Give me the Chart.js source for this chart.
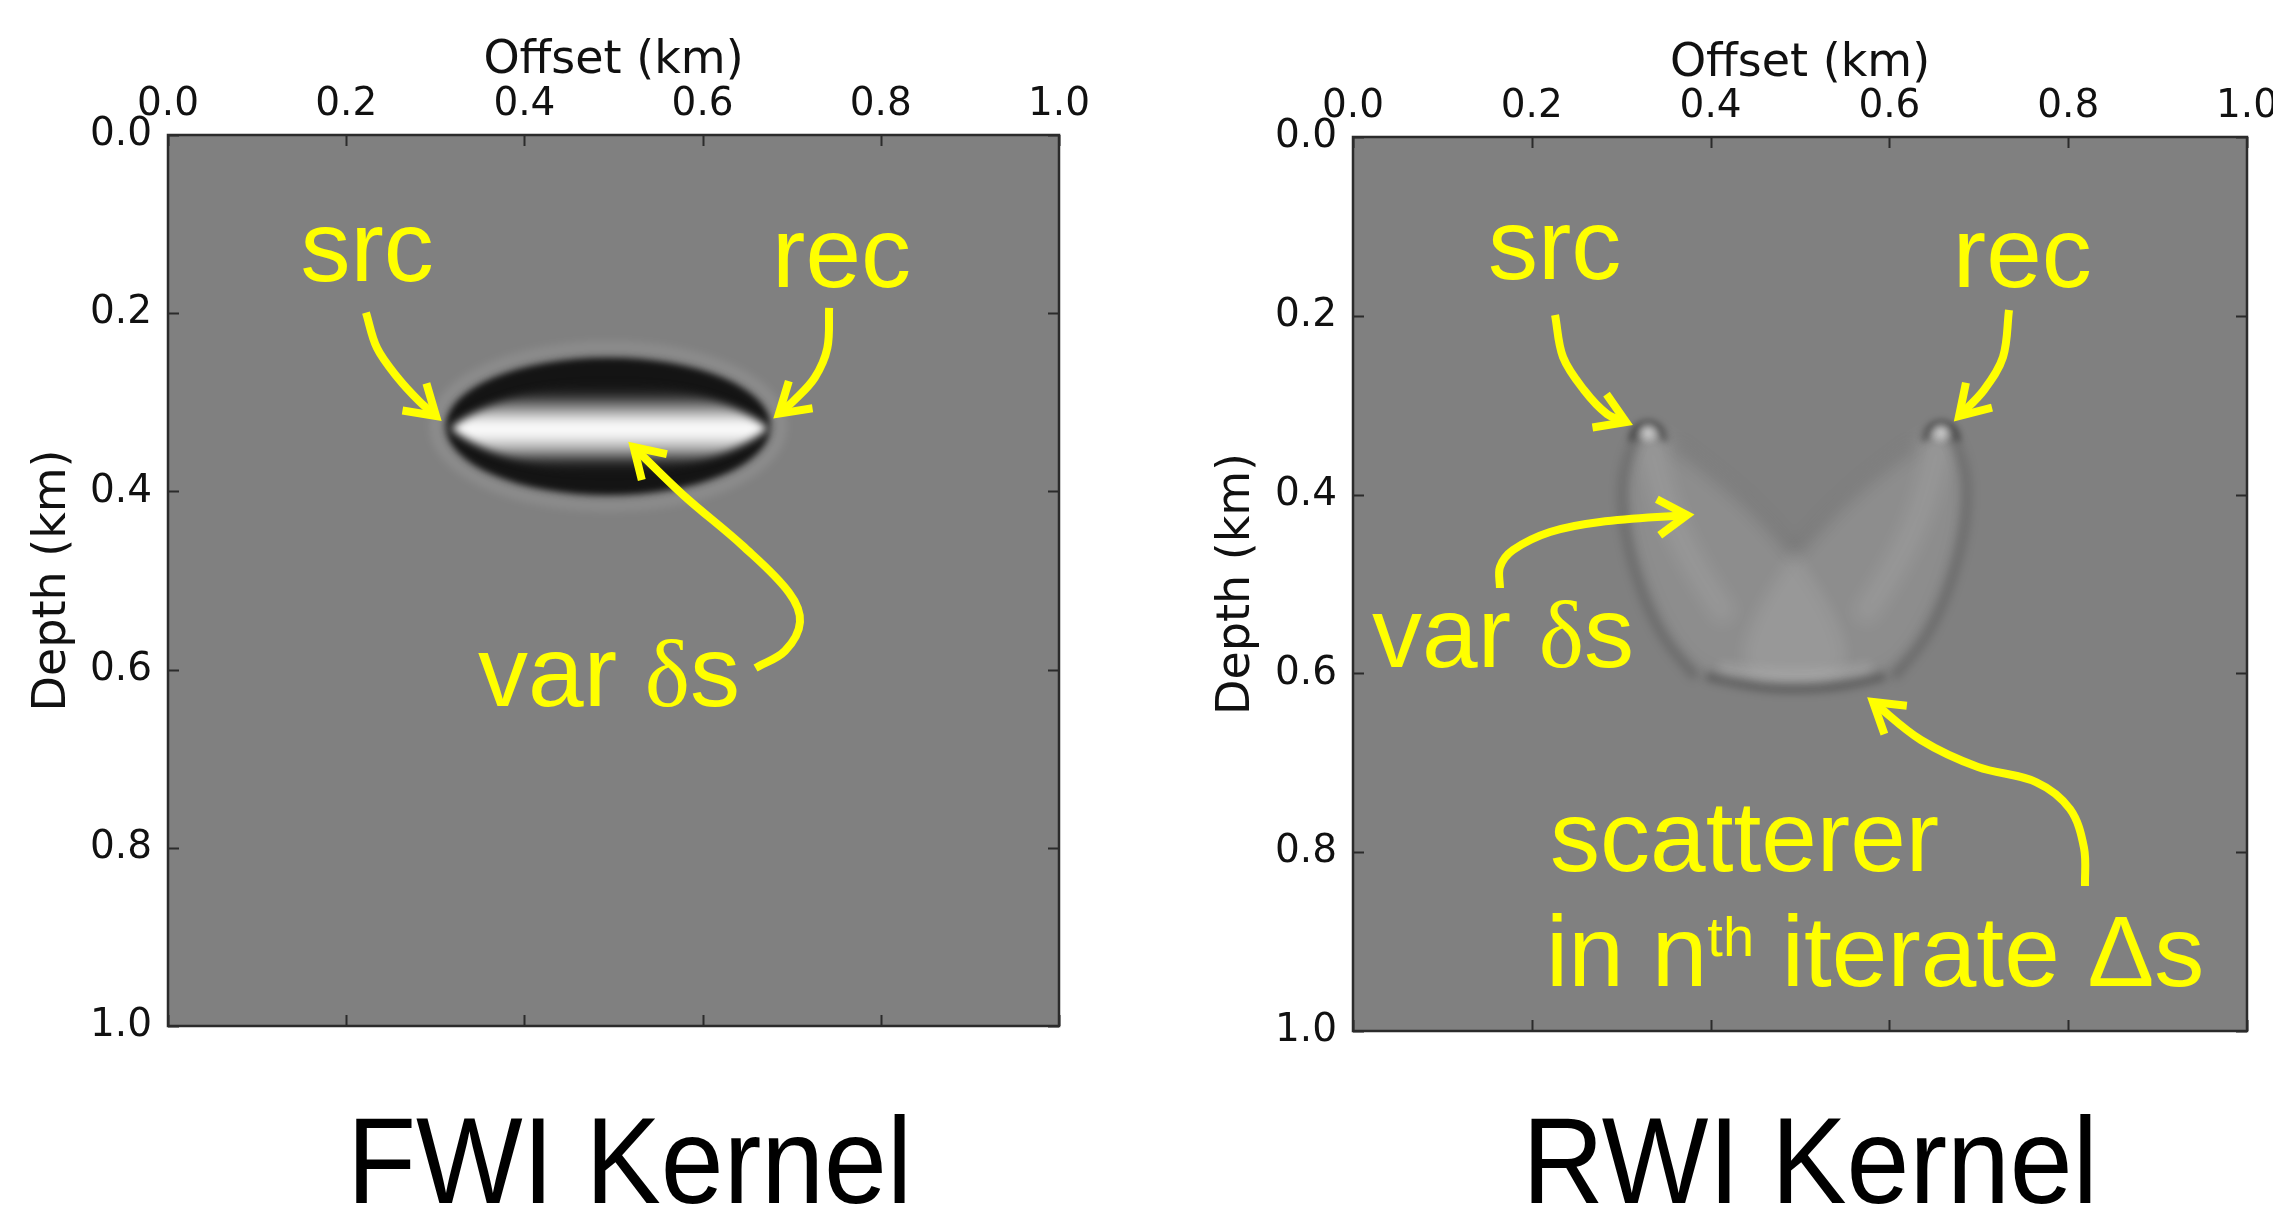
<!DOCTYPE html>
<html>
<head>
<meta charset="utf-8">
<script src="https://cdn.jsdelivr.net/npm/chart.js@4.4.0/dist/chart.umd.min.js"></script>
<style>
    html, body { margin: 0; padding: 0; background: #ffffff; }
    #wrap { position: relative; width: 2273px; height: 1205px; overflow: hidden; }
    canvas { position: absolute; top: 0; }
    #fwiChart { left: 0; }
    #rwiChart { left: 1136px; }
</style>
</head>
<body>
<div id="wrap">
    <canvas id="fwiChart" width="1136" height="1205"></canvas>
    <canvas id="rwiChart" width="1137" height="1205"></canvas>
</div>
<script>
// ---- tick values (km) ----
const offsetTicks = [0.0, 0.2, 0.4, 0.6, 0.8, 1.0];
const depthTicks = [0.0, 0.2, 0.4, 0.6, 0.8, 1.0];

// ---- FWI kernel: [offset, depth, half width, half height] in km ----
const fwiRim = [0.494, 0.327, 0.182, 0.077];
const fwiCore = [0.4955, 0.329, 0.178, 0.05];

// ---- RWI kernel outlines, [offset, depth] in km ----
const rwiLeftLobe = [[0.329, 0.321], [0.305, 0.355], [0.305, 0.425], [0.324, 0.495], [0.352, 0.557],
    [0.386, 0.598], [0.45, 0.612], [0.56, 0.608], [0.54, 0.53], [0.471, 0.434], [0.423, 0.387], [0.362, 0.340]];
const rwiRightLobe = [[0.659, 0.321], [0.683, 0.355], [0.683, 0.425], [0.664, 0.495], [0.636, 0.557],
    [0.602, 0.598], [0.538, 0.612], [0.428, 0.608], [0.448, 0.53], [0.517, 0.434], [0.565, 0.387], [0.626, 0.340]];
const rwiLeftStreak = [[0.331, 0.335], [0.345, 0.40], [0.375, 0.47], [0.42, 0.54]];
const rwiRightStreak = [[0.657, 0.335], [0.643, 0.40], [0.613, 0.47], [0.568, 0.54]];
const rwiLeftFlank = [[0.322, 0.328], [0.303, 0.36], [0.301, 0.425], [0.318, 0.497], [0.346, 0.56], [0.384, 0.604]];
const rwiRightFlank = [[0.666, 0.328], [0.685, 0.36], [0.687, 0.425], [0.670, 0.497], [0.642, 0.56], [0.604, 0.604]];
const rwiInnerEdge = [[0.36, 0.345], [0.423, 0.392], [0.471, 0.44], [0.494, 0.468], [0.517, 0.44], [0.565, 0.392], [0.628, 0.345]];
const rwiBottomGlow = [[0.41, 0.595], [0.45, 0.602], [0.494, 0.604], [0.54, 0.602], [0.58, 0.595]];
const rwiBottomArc = [[0.395, 0.603], [0.44, 0.614], [0.494, 0.618], [0.55, 0.614], [0.595, 0.603]];
const rwiTips = [[0.330, 0.331], [0.658, 0.331]];

// ---- yellow arrows, [offset, depth] in km, drawn towards the last point ----
const fwiSrcArrow = [[0.2222, 0.1993], [0.2346, 0.2391], [0.2581, 0.2727], [0.2817, 0.2985], [0.3008, 0.3154]];
const fwiRecArrow = [[0.742, 0.194], [0.740, 0.239], [0.7256, 0.2727], [0.702, 0.2985], [0.6857, 0.3127]];
const fwiVarArrow = [[0.6594, 0.5982], [0.6925, 0.579], [0.7093, 0.5466], [0.697, 0.5135], [0.6453, 0.4613],
    [0.5791, 0.4048], [0.5226, 0.3502]];
const rwiSrcArrow = [[0.2260, 0.1991], [0.2349, 0.2461], [0.2584, 0.2830], [0.2841, 0.3098], [0.3054, 0.3188]];
const rwiRecArrow = [[0.7338, 0.1935], [0.7271, 0.2461], [0.7058, 0.2830], [0.6779, 0.3121]];
const rwiVarArrow = [[0.1644, 0.5045], [0.1644, 0.4810], [0.1790, 0.4620], [0.2204, 0.4418], [0.2763, 0.4306], [0.3736, 0.4228]];
const rwiScatArrow = [[0.8188, 0.8378], [0.8177, 0.7953], [0.8020, 0.7517], [0.7640, 0.7215], [0.6991, 0.7047],
    [0.6353, 0.6745], [0.5817, 0.6320]];

// ---- annotation labels: anchor [offset, depth] at text baseline ----
const fwiNotes = [
    { at: [0.1487, 0.1639], runs: [['src', 'sans']] },
    { at: [0.678, 0.1706], runs: [['rec', 'sans']] },
    { at: [0.348, 0.641], runs: [['var ', 'sans'], ['δ', 'serif'], ['s', 'sans']] }
];
const rwiNotes = [
    { at: [0.151, 0.1588], runs: [['src', 'sans']] },
    { at: [0.671, 0.1678], runs: [['rec', 'sans']] },
    { at: [0.0213, 0.5928], runs: [['var ', 'sans'], ['δ', 'serif'], ['s', 'sans']] },
    { at: [0.2204, 0.821], runs: [['scatterer', 'sans']] },
    { at: [0.216, 0.950], runs: [['in n', 'sans'], ['th', 'sup'], [' iterate Δs', 'sans']] }
];

const YELLOW = '#ffff00';
const noteFonts = {
    sans: '100px "Liberation Sans", Arial, sans-serif',
    serif: '96px "Liberation Serif", "Times New Roman", serif',
    sup: '56px "Liberation Sans", Arial, sans-serif'
};

function toPx(chart, p) {
    return [chart.scales.x.getPixelForValue(p[0]), chart.scales.y.getPixelForValue(p[1])];
}

function smoothPath(ctx, pts, closed) {
    ctx.beginPath();
    if (closed) {
        const n = pts.length;
        const mid = (a, b) => [(a[0] + b[0]) / 2, (a[1] + b[1]) / 2];
        let m = mid(pts[0], pts[1]);
        ctx.moveTo(m[0], m[1]);
        for (let i = 1; i <= n; i++) {
            const p = pts[i % n];
            m = mid(p, pts[(i + 1) % n]);
            ctx.quadraticCurveTo(p[0], p[1], m[0], m[1]);
        }
        ctx.closePath();
    } else {
        ctx.moveTo(pts[0][0], pts[0][1]);
        for (let i = 1; i < pts.length - 1; i++) {
            const mx = (pts[i][0] + pts[i + 1][0]) / 2;
            const my = (pts[i][1] + pts[i + 1][1]) / 2;
            ctx.quadraticCurveTo(pts[i][0], pts[i][1], mx, my);
        }
        const last = pts[pts.length - 1];
        ctx.lineTo(last[0], last[1]);
    }
}

function ellipsePx(chart, e) {
    const [cx, cy] = toPx(chart, [e[0], e[1]]);
    const rx = Math.abs(chart.scales.x.getPixelForValue(e[0] + e[2]) - cx);
    const ry = Math.abs(chart.scales.y.getPixelForValue(e[1] + e[3]) - cy);
    return [cx, cy, rx, ry];
}

/**
 * FWI kernel: dark elliptical rim with a bright lens-shaped core
 */
function drawFwiKernel(chart) {
    const ctx = chart.ctx;
    const [cx, cy, rx, ry] = ellipsePx(chart, fwiRim);

    // faint light halo around the rim
    ctx.filter = 'blur(5px)';
    ctx.strokeStyle = 'rgba(255,255,255,0.12)';
    ctx.lineWidth = 9;
    ctx.beginPath();
    ctx.ellipse(cx, cy, rx + 11, ry + 11, 0, 0, Math.PI * 2);
    ctx.stroke();

    // dark rim
    ctx.filter = 'blur(3px)';
    ctx.fillStyle = '#141414';
    ctx.beginPath();
    ctx.ellipse(cx, cy, rx, ry, 0, 0, Math.PI * 2);
    ctx.fill();

    // bright core
    const [lx, ly, lrx, lry] = ellipsePx(chart, fwiCore);
    const g = ctx.createLinearGradient(0, ly - lry, 0, ly + lry);
    g.addColorStop(0, 'rgba(20,20,20,0)');
    g.addColorStop(0.14, '#333333');
    g.addColorStop(0.3, '#a0a0a0');
    g.addColorStop(0.42, '#ececec');
    g.addColorStop(0.5, '#ffffff');
    g.addColorStop(0.6, '#eeeeee');
    g.addColorStop(0.74, '#a8a8a8');
    g.addColorStop(0.88, '#333333');
    g.addColorStop(1, 'rgba(20,20,20,0)');
    ctx.filter = 'blur(4px)';
    ctx.fillStyle = g;
    ctx.beginPath();
    ctx.moveTo(lx - lrx, ly);
    ctx.bezierCurveTo(lx - lrx * 0.55, ly - lry * 1.3, lx + lrx * 0.55, ly - lry * 1.3, lx + lrx, ly);
    ctx.bezierCurveTo(lx + lrx * 0.55, ly + lry * 1.3, lx - lrx * 0.55, ly + lry * 1.3, lx - lrx, ly);
    ctx.fill();
    ctx.filter = 'none';
}

/**
 * RWI kernel: two soft lobes from src / rec joined by the scatterer arc
 */
function drawRwiKernel(chart) {
    const ctx = chart.ctx;
    const px = pts => pts.map(p => toPx(chart, p));

    ctx.filter = 'blur(8px)';
    ctx.fillStyle = 'rgba(255,255,255,0.1)';
    [rwiLeftLobe, rwiRightLobe].forEach(lobe => {
        smoothPath(ctx, px(lobe), true);
        ctx.fill();
    });

    // lighter streak down each lobe
    ctx.filter = 'blur(9px)';
    ctx.strokeStyle = 'rgba(255,255,255,0.1)';
    ctx.lineWidth = 22;
    [rwiLeftStreak, rwiRightStreak].forEach(s => {
        smoothPath(ctx, px(s), false);
        ctx.stroke();
    });

    ctx.filter = 'blur(5px)';
    ctx.strokeStyle = 'rgba(0,0,0,0.17)';
    ctx.lineWidth = 10;
    [rwiLeftFlank, rwiRightFlank].forEach(f => {
        smoothPath(ctx, px(f), false);
        ctx.stroke();
    });

    ctx.filter = 'blur(7px)';
    ctx.strokeStyle = 'rgba(0,0,0,0.08)';
    ctx.lineWidth = 12;
    smoothPath(ctx, px(rwiInnerEdge), false);
    ctx.stroke();

    ctx.filter = 'blur(6px)';
    ctx.strokeStyle = 'rgba(255,255,255,0.17)';
    ctx.lineWidth = 12;
    smoothPath(ctx, px(rwiBottomGlow), false);
    ctx.stroke();

    ctx.filter = 'blur(4px)';
    ctx.strokeStyle = 'rgba(0,0,0,0.3)';
    ctx.lineWidth = 8;
    smoothPath(ctx, px(rwiBottomArc), false);
    ctx.stroke();

    rwiTips.forEach(t => {
        const [tx, ty] = toPx(chart, t);
        ctx.filter = 'blur(3px)';
        ctx.strokeStyle = 'rgba(0,0,0,0.33)';
        ctx.lineWidth = 7;
        ctx.beginPath();
        ctx.arc(tx, ty + 6, 16, Math.PI * 0.95, Math.PI * 2.05);
        ctx.stroke();
        ctx.filter = 'blur(2px)';
        const rg = ctx.createRadialGradient(tx, ty, 0, tx, ty, 12);
        rg.addColorStop(0, 'rgba(255,255,255,0.6)');
        rg.addColorStop(1, 'rgba(255,255,255,0)');
        ctx.fillStyle = rg;
        ctx.beginPath();
        ctx.arc(tx, ty, 12, 0, Math.PI * 2);
        ctx.fill();
    });
    ctx.filter = 'none';
}

function drawRuns(ctx, x, y, runs) {
    let cx = x;
    ctx.textAlign = 'left';
    ctx.textBaseline = 'alphabetic';
    runs.forEach(([text, kind]) => {
        ctx.font = noteFonts[kind];
        ctx.fillText(text, cx, kind === 'sup' ? y - 30 : y);
        cx += ctx.measureText(text).width;
    });
}

function makePanelPlugin(drawKernel, notes, title, titleDx) {
    return {
        id: 'panel',
        beforeDatasetsDraw(chart) {
            const ctx = chart.ctx;
            const a = chart.chartArea;
            ctx.save();
            ctx.beginPath();
            ctx.rect(a.left, a.top, a.right - a.left, a.bottom - a.top);
            ctx.clip();
            ctx.fillStyle = '#808080';
            ctx.fillRect(a.left, a.top, a.right - a.left, a.bottom - a.top);
            drawKernel(chart);
            ctx.restore();
        },
        afterDatasetsDraw(chart) {
            const ctx = chart.ctx;
            ctx.save();
            // arrow heads
            chart.getSortedVisibleDatasetMetas().forEach(meta => {
                const pts = meta.data;
                const end = pts[pts.length - 1];
                let bx = end.cp1x, by = end.cp1y;
                if (bx === undefined || Math.hypot(end.x - bx, end.y - by) < 1) {
                    bx = pts[pts.length - 2].x;
                    by = pts[pts.length - 2].y;
                }
                const ang = Math.atan2(end.y - by, end.x - bx) + Math.PI;
                const len = 34, spread = 0.56;
                ctx.strokeStyle = YELLOW;
                ctx.lineWidth = 8;
                ctx.lineJoin = 'miter';
                ctx.lineCap = 'butt';
                ctx.beginPath();
                ctx.moveTo(end.x + len * Math.cos(ang - spread), end.y + len * Math.sin(ang - spread));
                ctx.lineTo(end.x, end.y);
                ctx.lineTo(end.x + len * Math.cos(ang + spread), end.y + len * Math.sin(ang + spread));
                ctx.stroke();
            });
            // labels
            ctx.fillStyle = YELLOW;
            notes.forEach(n => {
                const [x, y] = toPx(chart, n.at);
                drawRuns(ctx, x, y, n.runs);
            });
            ctx.restore();
        },
        afterDraw(chart) {
            const ctx = chart.ctx;
            const a = chart.chartArea;
            const xs = chart.scales.x, ys = chart.scales.y;
            ctx.save();
            // inward ticks on all four sides
            ctx.strokeStyle = '#2b2b2b';
            ctx.lineWidth = 2;
            ctx.beginPath();
            offsetTicks.forEach(v => {
                const x = Math.round(xs.getPixelForValue(v)) + 0.5;
                ctx.moveTo(x, a.top); ctx.lineTo(x, a.top + 11);
                ctx.moveTo(x, a.bottom); ctx.lineTo(x, a.bottom - 11);
            });
            depthTicks.forEach(v => {
                const y = Math.round(ys.getPixelForValue(v)) + 0.5;
                ctx.moveTo(a.left, y); ctx.lineTo(a.left + 11, y);
                ctx.moveTo(a.right, y); ctx.lineTo(a.right - 11, y);
            });
            ctx.stroke();
            // frame
            ctx.lineWidth = 2.5;
            ctx.strokeStyle = '#2b2b2b';
            ctx.strokeRect(a.left, a.top, a.right - a.left, a.bottom - a.top);
            // panel caption
            ctx.fillStyle = '#000000';
            ctx.textAlign = 'center';
            ctx.textBaseline = 'alphabetic';
            ctx.font = '113px "Liberation Sans", Arial, sans-serif';
            ctx.translate((a.left + a.right) / 2 + titleDx, 1203);
            ctx.scale(1, 1.08);
            ctx.fillText(title, 0, 0);
            ctx.restore();
        }
    };
}

function arrowDataset(points) {
    return {
        data: points.map(p => ({ x: p[0], y: p[1] })),
        borderColor: YELLOW,
        borderWidth: 8,
        borderCapStyle: 'butt',
        borderJoinStyle: 'round',
        pointRadius: 0,
        pointHoverRadius: 0,
        tension: 0.35,
        fill: false
    };
}

function axisOptions(position, titleText, titlePad, boxSize, tickValues) {
    return {
        type: 'linear',
        position: position,
        min: 0,
        max: 1,
        reverse: position === 'left',
        grid: { display: false, drawTicks: false },
        border: { display: false },
        ticks: {
            font: { family: 'DejaVu Sans', size: 39 },
            color: '#111111',
            padding: position === 'top' ? 7 : 16,
            maxRotation: 0,
            autoSkip: false,
            callback: v => Number(v).toFixed(1)
        },
        title: {
            display: true,
            text: titleText,
            color: '#111111',
            font: { family: 'DejaVu Sans', size: 46 },
            padding: { top: titlePad, bottom: 0 }
        },
        afterBuildTicks: scale => {
            scale.ticks = tickValues.map(v => ({ value: v }));
        },
        afterFit: scale => {
            if (position === 'top') {
                scale.height = boxSize;
            } else {
                scale.width = boxSize;
            }
            scale.paddingLeft = 0;
            scale.paddingRight = 0;
            scale.paddingTop = 0;
            scale.paddingBottom = 0;
        }
    };
}

function buildPanel(canvasId, arrows, drawKernel, notes, title, layout) {
    const ctx = document.getElementById(canvasId);
    return new Chart(ctx.getContext('2d'), {
        type: 'line',
        data: { datasets: arrows.map(arrowDataset) },
        options: {
            responsive: false,
            animation: false,
            events: [],
            devicePixelRatio: 1,
            layout: { padding: { left: 0, top: 0, right: layout.right, bottom: layout.bottom } },
            plugins: { legend: { display: false }, tooltip: { enabled: false } },
            scales: {
                x: axisOptions('top', 'Offset (km)', layout.xTitlePad, layout.top, offsetTicks),
                y: axisOptions('left', 'Depth (km)', layout.yTitlePad, layout.left, depthTicks)
            }
        },
        plugins: [makePanelPlugin(drawKernel, notes, title, layout.titleDx)]
    });
}

buildPanel('fwiChart', [fwiSrcArrow, fwiRecArrow, fwiVarArrow], drawFwiKernel, fwiNotes, 'FWI Kernel',
    { left: 168, top: 135, right: 77, bottom: 179, xTitlePad: 33, yTitlePad: 25, titleDx: 16 });
buildPanel('rwiChart', [rwiSrcArrow, rwiRecArrow, rwiVarArrow, rwiScatArrow], drawRwiKernel, rwiNotes, 'RWI Kernel',
    { left: 217, top: 137, right: 26, bottom: 174, xTitlePad: 36, yTitlePad: 73, titleDx: 10 });
</script>
</body>
</html>
